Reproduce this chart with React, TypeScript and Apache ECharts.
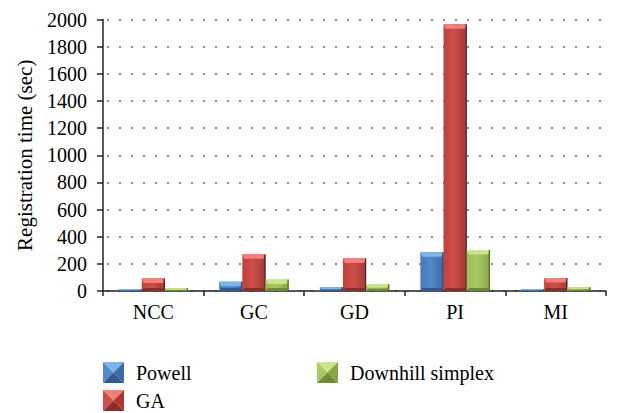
import React, { useEffect, useRef } from "react";
import * as echarts from "echarts";

// Registration time per similarity measure, for each optimiser
const categories = ["NCC", "GC", "GD", "PI", "MI"];
const powell = [12, 69, 27, 285, 12];
const ga = [93, 270, 240, 1965, 95];
const downhill = [20, 84, 49, 302, 28];
const yTicks = { min: 0, max: 2000, interval: 200 };

const FONT = "Liberation Serif";
const CATEGORY_GAP = 0.31;

type Palette = { base: string; light: string; top: string; bottom: string; edge: string; side: string };

const palettes: Palette[] = [
  { base: "#4679bb", light: "#5289c8", top: "#7fb4ea", bottom: "#2f5b92", edge: "#1f3a63", side: "#3d6aa6" },
  { base: "#c0403c", light: "#cc4f4a", top: "#f27f7a", bottom: "#8e2b28", edge: "#3b2a3d", side: "#a93733" },
  { base: "#9bbb55", light: "#a8c863", top: "#cbe38f", bottom: "#6f8b33", edge: "#55701f", side: "#88a648" },
];

const seriesDefs = [
  { name: "Powell", values: powell },
  { name: "GA", values: ga },
  { name: "Downhill simplex", values: downhill },
];

function bevelIcon(p: Palette): string {
  const svg =
    `<svg xmlns="http://www.w3.org/2000/svg" width="21" height="21" viewBox="0 0 21 21">` +
    `<polygon points="0,0 21,0 10.5,10.5" fill="${p.top}"/>` +
    `<polygon points="0,0 10.5,10.5 0,21" fill="${p.light}"/>` +
    `<polygon points="21,0 21,21 10.5,10.5" fill="${p.side}"/>` +
    `<polygon points="0,21 21,21 10.5,10.5" fill="${p.bottom}"/>` +
    `</svg>`;
  return "image://data:image/svg+xml;charset=utf-8," + encodeURIComponent(svg);
}

function makeRenderItem(k: number, p: Palette) {
  return (params: any, api: any) => {
    const ci = api.value(0);
    const v = api.value(1);
    const base = api.coord([ci, 0]);
    const top = api.coord([ci, v]);
    const band = api.size([1, 0])[0];
    const groupW = band * (1 - CATEGORY_GAP);
    const w = groupW / seriesDefs.length;
    const x = base[0] - groupW / 2 + k * w;
    const y0 = base[1];
    const y1 = top[1];
    const h = y0 - y1;
    const bt = Math.min(4.5, h / 2);
    const bb = Math.min(3, h / 3);
    const bs = Math.min(2, w / 4);
    const body = new echarts.graphic.LinearGradient(0, 0, 1, 0, [
      { offset: 0, color: p.base },
      { offset: 0.45, color: p.light },
      { offset: 1, color: p.side },
    ]);
    return {
      type: "group",
      children: [
        { type: "rect", shape: { x, y: y1, width: w, height: h }, style: { fill: body } },
        {
          type: "polygon",
          shape: { points: [[x, y1], [x + w, y1], [x + w - bs, y1 + bt], [x + bs, y1 + bt]] },
          style: { fill: p.top },
        },
        {
          type: "polygon",
          shape: { points: [[x, y0], [x + w, y0], [x + w - bs, y0 - bb], [x + bs, y0 - bb]] },
          style: { fill: p.bottom },
        },
        {
          type: "line",
          shape: { x1: x + w - 0.5, y1: y1, x2: x + w - 0.5, y2: y0 },
          style: { stroke: p.edge, lineWidth: 1.2 },
        },
      ],
    };
  };
}

export default function App() {
  const ref = useRef<HTMLDivElement>(null);

  useEffect(() => {
    if (!ref.current) return;
    const chart = echarts.init(ref.current, null, { renderer: "svg" });

    const legendText = { fontFamily: FONT, fontSize: 20, color: "#000", padding: [0, 0, 0, 7] };

    chart.setOption({
      animation: false,
      backgroundColor: "#fff",
      textStyle: { fontFamily: FONT },
      grid: { left: 103, right: 23, top: 19.5, bottom: 122, containLabel: false },
      legend: [
        {
          orient: "vertical",
          left: 103,
          top: 362,
          padding: 0,
          itemWidth: 21,
          itemHeight: 21,
          itemGap: 7,
          textStyle: legendText,
          data: [
            { name: seriesDefs[0].name, icon: bevelIcon(palettes[0]) },
            { name: seriesDefs[1].name, icon: bevelIcon(palettes[1]) },
          ],
        },
        {
          orient: "vertical",
          left: 317,
          top: 362,
          padding: 0,
          itemWidth: 21,
          itemHeight: 21,
          textStyle: legendText,
          data: [{ name: seriesDefs[2].name, icon: bevelIcon(palettes[2]) }],
        },
      ],
      xAxis: {
        type: "category",
        data: categories,
        axisLine: { show: true, lineStyle: { color: "#222", width: 1.5 } },
        axisTick: { show: true, length: 5, alignWithLabel: false, lineStyle: { color: "#222", width: 1.5 } },
        axisLabel: { fontFamily: FONT, fontSize: 20, color: "#000", margin: 11 },
        splitLine: { show: false },
      },
      yAxis: {
        type: "value",
        min: yTicks.min,
        max: yTicks.max,
        interval: yTicks.interval,
        name: "Registration time (sec)",
        nameLocation: "middle",
        nameGap: 68,
        nameTextStyle: { fontFamily: FONT, fontSize: 21, color: "#000" },
        axisLine: { show: true, lineStyle: { color: "#222", width: 1.5 } },
        axisTick: { show: true, length: 6, lineStyle: { color: "#222", width: 1.5 } },
        axisLabel: {
          fontFamily: FONT,
          fontSize: 20,
          color: "#000",
          margin: 16,
          formatter: (v: number) => String(v),
        },
        splitLine: {
          show: true,
          lineStyle: { color: "#8a8a8a", width: 2, type: [2, 10], dashOffset: -4 },
        },
      },
      series: seriesDefs.map((s, k) => ({
        type: "custom",
        name: s.name,
        itemStyle: { color: palettes[k].base },
        encode: { x: 0, y: 1 },
        data: s.values.map((v, i) => [i, v]),
        renderItem: makeRenderItem(k, palettes[k]),
        z: 3,
      })),
    });

    return () => chart.dispose();
  }, []);

  return (
    <div
      ref={ref}
      style={{ position: "fixed", left: 0, top: 0, width: 629, height: 413, background: "#fff" }}
    />
  );
}
